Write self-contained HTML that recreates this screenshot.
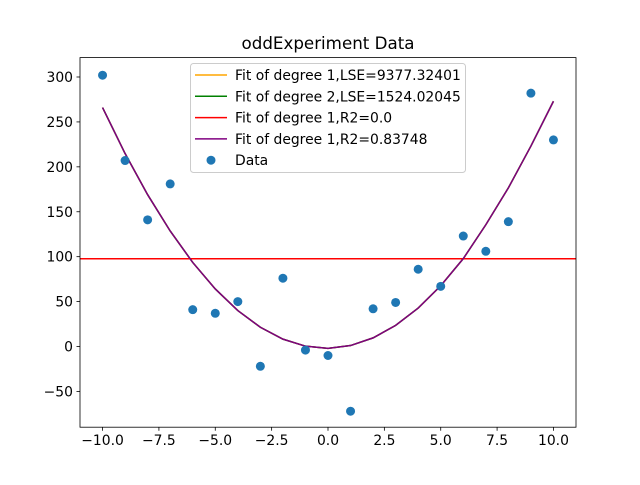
<!DOCTYPE html>
<html><head><meta charset="utf-8"><style>
body{margin:0;background:#fff}
svg{font-family:"DejaVu Sans","Liberation Sans",sans-serif}
</style></head><body>
<svg id="chart" width="640" height="480" viewBox="0 0 640 480">
<rect width="640" height="480" fill="#fff"/>
<text x="328" y="49" text-anchor="middle" font-size="16.7">oddExperiment Data</text>
<g id="plot"></g>
</svg>
<script>
const xs=[-10,-9,-8,-7,-6,-5,-4,-3,-2,-1,0,1,2,3,4,5,6,7,8,9,10];
const dataY=[302,207,141,181,41,37,50,-22,76,-4,-10,-72,42,49,86,67,123,106,139,282,230];
const fitY=[266,214.8,169.0,128.6,93.6,64.1,40.0,21.4,8.2,0.4,-2,1.1,9.6,23.5,42.8,67.6,97.8,135.5,176.6,223.1,273];
const meanY=[97.7];
const xTicks=[-10,-7.5,-5,-2.5,0,2.5,5,7.5,10];
const xTickLabels=["−10.0","−7.5","−5.0","−2.5","0.0","2.5","5.0","7.5","10.0"];
const yTicks=[-50,0,50,100,150,200,250,300];
const yTickLabels=["−50","0","50","100","150","200","250","300"];
const legendLabels=["Fit of degree 1,LSE=9377.32401","Fit of degree 2,LSE=1524.02045","Fit of degree 1,R2=0.0","Fit of degree 1,R2=0.83748","Data"];
const legendColors=["orange","green","red","purple","#1f77b4"];

const L=80,R=576,T=57.6,B=427.2,xmin=-11,xmax=11,ymin=-90.7,ymax=320.7;
const sx=v=>L+(v-xmin)/(xmax-xmin)*(R-L);
const sy=v=>B-(v-ymin)/(ymax-ymin)*(B-T)+0.8;
const NS="http://www.w3.org/2000/svg";
const g=document.getElementById('plot');
function mk(tag,attrs,parent){const e=document.createElementNS(NS,tag);for(const k in attrs)e.setAttribute(k,attrs[k]);(parent||g).appendChild(e);return e;}

const defs=mk('defs',{});const cp=mk('clipPath',{id:'cp'},defs);mk('rect',{x:L,y:T,width:R-L,height:B-T},cp);
const inner=mk('g',{'clip-path':'url(#cp)'});



const pts=xs.map((x,i)=>sx(x)+','+sy(fitY[i])).join(' ');
const lo=mk('polyline',{points:pts,fill:'none',stroke:'orange','stroke-width':1.5},inner);


const lg=mk('polyline',{points:pts,fill:'none',stroke:'green','stroke-width':1.5},inner);


const lr=mk('line',{x1:L,x2:R,y1:sy(meanY[0]),y2:sy(meanY[0]),stroke:'red','stroke-width':1.5},inner);


const lp=mk('polyline',{points:pts,fill:'none',stroke:'purple','stroke-width':1.5},inner);


xs.forEach((x,i)=>{
  const c=mk('circle',{cx:sx(x),cy:sy(dataY[i]),r:4.5,fill:'#1f77b4'},inner);
  
  
});

const frame=mk('rect',{x:L,y:T,width:R-L,height:B-T,fill:'none',stroke:'#000','stroke-width':0.8});



xTicks.forEach((t,i)=>{
  const x=sx(t);
  mk('line',{x1:x,x2:x,y1:B,y2:B+3.5,stroke:'#000','stroke-width':0.8});
  const tx=mk('text',{x:x,y:B+18,'text-anchor':'middle','font-size':13.9});
  tx.textContent=xTickLabels[i];
  
  
});
yTicks.forEach((t,i)=>{
  const y=sy(t);
  mk('line',{x1:L-3.5,x2:L,y1:y,y2:y,stroke:'#000','stroke-width':0.8});
  const tx=mk('text',{x:L-7,y:y+5,'text-anchor':'end','font-size':13.9});
  tx.textContent=yTickLabels[i];
  
  
});

const leg=mk('g',{});


mk('rect',{x:190.5,y:63.5,width:275,height:109,rx:3,fill:'#fff','fill-opacity':0.8,stroke:'#ccc','stroke-width':1},leg);
legendLabels.forEach((lab,i)=>{
  const y=75+i*21.3;
  const e=mk('g',{},leg);
  
  
  if(i<4) mk('line',{x1:195,x2:227,y1:y,y2:y,stroke:legendColors[i],'stroke-width':1.5},e);
  else mk('circle',{cx:211,cy:y,r:4.5,fill:legendColors[i]},e);
  const t=mk('text',{x:235,y:y+5,'font-size':13.9},e);
  t.textContent=lab;
});
</script>
</body></html>
